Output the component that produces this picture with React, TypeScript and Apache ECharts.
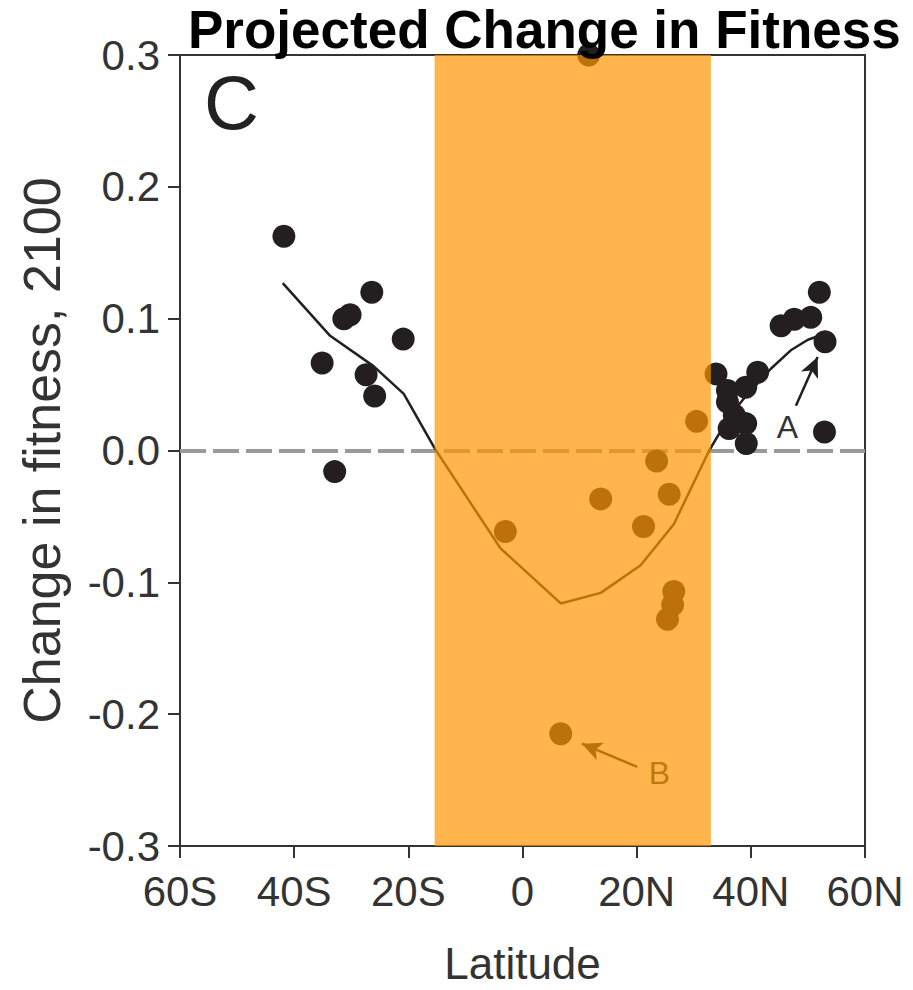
import React, { useEffect, useRef } from "react";
import * as echarts from "echarts";

// Latitude in degrees (negative = South), change in fitness by 2100
const pointLat = [
  -41.8, -26.4, -31.3, -30.2, -20.9, -35.1, -27.4, -25.9, -32.9,
  -3.0, 13.7, 23.5, 25.7, 21.2, 30.5, 26.5, 26.3, 25.4, 6.7, 11.6,
  52.0, 50.5, 47.6, 45.3, 53.0, 41.2, 33.9, 35.9, 39.1, 35.9, 37.1, 39.1, 36.2, 39.2, 52.9,
];
const pointVal = [
  0.1625, 0.12, 0.1, 0.103, 0.0845, 0.0664, 0.0574, 0.0413, -0.016,
  -0.0614, -0.0367, -0.008, -0.0332, -0.0576, 0.0221, -0.107, -0.117, -0.128, -0.2148, 0.3,
  0.12, 0.101, 0.0996, 0.0946, 0.0825, 0.0594, 0.0581, 0.0455, 0.048, 0.0367, 0.0267, 0.0204, 0.0166, 0.0053, 0.014,
];

const lineLat = [-42, -33.7, -26.1, -20.8, -15.3, -3.9, 6.7, 13.7, 20.7, 26.5, 32.7, 36, 38.5, 41, 43.5, 47, 50, 52.6];
const lineVal = [0.127, 0.087, 0.064, 0.043, 0.001, -0.074, -0.116, -0.108, -0.087, -0.056, 0.0, 0.024, 0.038, 0.05, 0.062, 0.076, 0.084, 0.088];

// Tropical band (shaded)
const bandLat = [-15.4, 33.0];

// Annotations: [tailLat, tailVal, tipLat, tipVal]
const arrowA = [47.9, 0.034, 51.7, 0.071];
const arrowB = [20.1, -0.24, 10.4, -0.2224];
const labelA = [46.4, 0.018];
const labelB = [24.0, -0.245];

const xTicks = { min: -60, max: 60, interval: 20 };
const yTicks = { min: -0.3, max: 0.3, interval: 0.1 };

const FONT = "'Liberation Sans', Arial, Helvetica, sans-serif";

export default function App() {
  const ref = useRef<HTMLDivElement>(null);

  useEffect(() => {
    if (!ref.current) return;
    const chart = echarts.init(ref.current, undefined, { renderer: "svg" });

    const points = pointLat.map((x, i) => [x, pointVal[i]]);
    const line = lineLat.map((x, i) => [x, lineVal[i]]);

    chart.setOption({
      animation: false,
      backgroundColor: "#ffffff",
      textStyle: { fontFamily: FONT },
      title: {
        text: "Projected Change in Fitness",
        left: 183,
        top: -2,
        textStyle: { fontFamily: FONT, fontWeight: "bold", fontSize: 53, color: "#000" },
        z: 20,
      },
      grid: {
        left: 180,
        right: 48,
        top: 55,
        bottom: 141,
        show: true,
        borderColor: "#333",
        borderWidth: 2,
        backgroundColor: "transparent",
      },
      xAxis: {
        type: "value",
        min: xTicks.min,
        max: xTicks.max,
        interval: xTicks.interval,
        name: "Latitude",
        nameLocation: "middle",
        nameGap: 95,
        nameTextStyle: { fontSize: 44, color: "#333", fontFamily: FONT },
        axisLine: { show: true, onZero: false, lineStyle: { color: "#333", width: 2 } },
        axisTick: { show: true, inside: false, length: 12, lineStyle: { color: "#333", width: 2 } },
        axisLabel: {
          fontSize: 42,
          color: "#333",
          margin: 24,
          fontFamily: FONT,
          formatter: (v: number) => (v < 0 ? `${-v}S` : v > 0 ? `${v}N` : "0"),
        },
        splitLine: { show: false },
      },
      yAxis: {
        type: "value",
        min: yTicks.min,
        max: yTicks.max,
        interval: yTicks.interval,
        name: "Change in fitness, 2100",
        nameLocation: "middle",
        nameGap: 112,
        nameTextStyle: { fontSize: 52, color: "#333", fontFamily: FONT },
        axisLine: { show: true, onZero: false, lineStyle: { color: "#333", width: 2 } },
        axisTick: { show: true, inside: false, length: 12, lineStyle: { color: "#333", width: 2 } },
        axisLabel: {
          fontSize: 42,
          color: "#333",
          margin: 20,
          fontFamily: FONT,
          formatter: (v: number) => v.toFixed(1),
        },
        splitLine: { show: false },
      },
      graphic: [
        {
          type: "text",
          left: 204,
          top: 64,
          z: 5,
          style: { text: "C", fontSize: 76, fill: "#222", fontFamily: FONT },
        },
      ],
      series: [
        {
          name: "zero",
          type: "line",
          data: [],
          z: 1,
          markLine: {
            silent: true,
            z: 1,
            symbol: ["none", "none"],
            label: { show: false },
            lineStyle: { color: "#9a9a9a", width: 4, type: [26, 7] },
            data: [{ yAxis: 0 }],
          },
        },
        {
          name: "trend",
          type: "line",
          data: line,
          showSymbol: false,
          symbol: "none",
          lineStyle: { color: "#231f20", width: 2.5 },
          z: 2,
        },
        {
          name: "populations",
          type: "scatter",
          data: points,
          symbol: "circle",
          symbolSize: 23,
          clip: false,
          itemStyle: { color: "#231f20", opacity: 1 },
          z: 3,
          markLine: {
            silent: true,
            z: 3,
            symbol: ["none", "arrow"],
            symbolSize: [14, 20],
            label: { show: false },
            lineStyle: { color: "#231f20", width: 2.5, type: "solid" },
            data: [
              [{ coord: [arrowA[0], arrowA[1]] }, { coord: [arrowA[2], arrowA[3]] }],
              [{ coord: [arrowB[0], arrowB[1]] }, { coord: [arrowB[2], arrowB[3]] }],
            ],
          },
          markPoint: {
            silent: true,
            z: 3,
            symbol: "circle",
            symbolSize: 0,
            label: {
              show: true,
              position: "inside",
              fontSize: 32,
              color: "#333",
              fontFamily: FONT,
              formatter: (p: any) => p.name,
            },
            data: [
              { name: "A", coord: [labelA[0], labelA[1]] },
              { name: "B", coord: [labelB[0], labelB[1]] },
            ],
          },
        },
        {
          name: "band",
          type: "scatter",
          data: [],
          z: 10,
          markArea: {
            silent: true,
            z: 10,
            itemStyle: { color: "rgba(255,150,0,0.7)" },
            data: [[{ xAxis: bandLat[0] }, { xAxis: bandLat[1] }]],
          },
        },
      ],
    });

    return () => chart.dispose();
  }, []);

  return <div ref={ref} style={{ width: 913, height: 990, margin: -8 }} />;
}
